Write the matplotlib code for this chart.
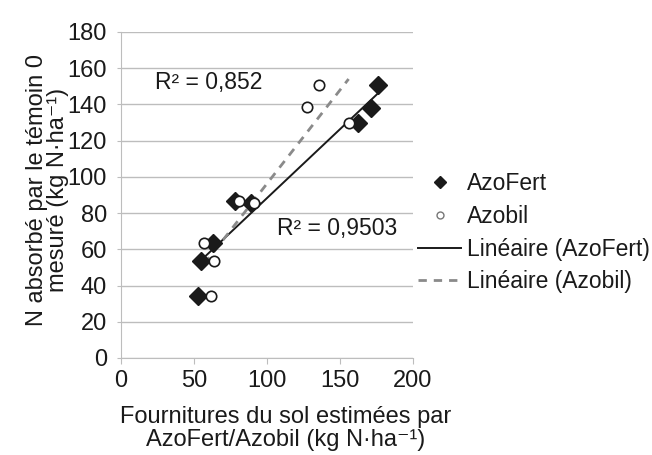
import numpy as np
import matplotlib.pyplot as plt
from matplotlib.lines import Line2D

plt.rcParams['font.family'] = ['Liberation Sans', 'DejaVu Sans']

# AzoFert (losanges) et Azobil (cercles)
azofert_x = [52.5, 54.8, 63.2, 78.3, 89.0, 162.3, 171.2, 176.5]
azofert_y = [34.3, 53.6, 63.7, 86.4, 85.8, 129.5, 138.1, 150.6]
azobil_x = [61.9, 63.9, 57.1, 80.6, 91.0, 127.2, 135.8, 156.0]
azobil_y = [34.3, 53.4, 63.7, 86.4, 85.8, 138.3, 150.6, 129.5]
r2_labels = ["R² = 0,852", "R² = 0,9503"]
legend_labels = ["AzoFert", "Azobil", "Linéaire (AzoFert)", "Linéaire (Azobil)"]

fs = 16.5
ink = '#1a1a1a'

fig = plt.figure(figsize=(6.52, 4.55), dpi=100)
ax = fig.add_axes([0.1856, 0.2132, 0.4475, 0.7168])

ax.plot(azofert_x, azofert_y, ls='none', marker='D', ms=9, color=ink, zorder=3)
ax.plot(azobil_x, azobil_y, ls='none', marker='o', ms=7.5, mfc='white', mec=ink,
        mew=1.2, zorder=4)

# droites de tendance
p1 = np.polyfit(azofert_x, azofert_y, 1)
xx1 = np.array([min(azofert_x), max(azofert_x)])
ax.plot(xx1, np.polyval(p1, xx1), color=ink, lw=1.4, zorder=2)
p2 = np.polyfit(azobil_x, azobil_y, 1)
xx2 = np.array([min(azobil_x), max(azobil_x)])
ax.plot(xx2, np.polyval(p2, xx2), color='#8a8a8a', lw=2, ls=(0, (3, 2.5)), zorder=2)

ax.text(23.3, 152, r2_labels[0], fontsize=fs, color=ink, va='center')
ax.text(106.8, 71.3, r2_labels[1], fontsize=fs, color=ink, va='center')

ax.set_xlim(0, 200)
ax.set_ylim(0, 180)
ax.set_xticks(range(0, 201, 50))
ax.set_yticks(range(0, 181, 20))
ax.grid(axis='y', color='#bdbdbd', lw=1)
ax.set_axisbelow(True)
for s in ['top', 'right']:
    ax.spines[s].set_visible(False)
for s in ['left', 'bottom']:
    ax.spines[s].set_color('#bdbdbd')
ax.tick_params(axis='both', colors='#bdbdbd', labelcolor=ink, labelsize=17)
ax.tick_params(axis='x', length=4, pad=5)
ax.tick_params(axis='y', length=3, pad=7)

fig.text(0.438, 0.058, "Fournitures du sol estimées par\nAzoFert/Azobil (kg N·ha⁻¹)",
         ha='center', va='center', fontsize=17, color=ink, linespacing=1.1)
fig.text(0.073, 0.582, "N absorbé par le témoin 0\nmesuré (kg N·ha⁻¹)",
         ha='center', va='center', rotation=90, fontsize=17, color=ink, linespacing=0.95)

handles = [
    Line2D([], [], ls='none', marker='D', ms=6.5, color=ink),
    Line2D([], [], ls='none', marker='o', ms=5, mfc='white', mec='#777777', mew=1),
    Line2D([], [], color=ink, lw=1.4),
    Line2D([], [], color='#8a8a8a', lw=2, ls=(0, (3, 2.5))),
]
leg = ax.legend(handles, legend_labels, loc='upper left', bbox_to_anchor=(0.641, 0.621),
                bbox_transform=fig.transFigure, frameon=False, fontsize=fs,
                handlelength=1.9, handletextpad=0.26, labelspacing=0.42,
                borderaxespad=0, borderpad=0)
for t in leg.get_texts():
    t.set_color(ink)

fig.savefig('out.png', dpi=100)
